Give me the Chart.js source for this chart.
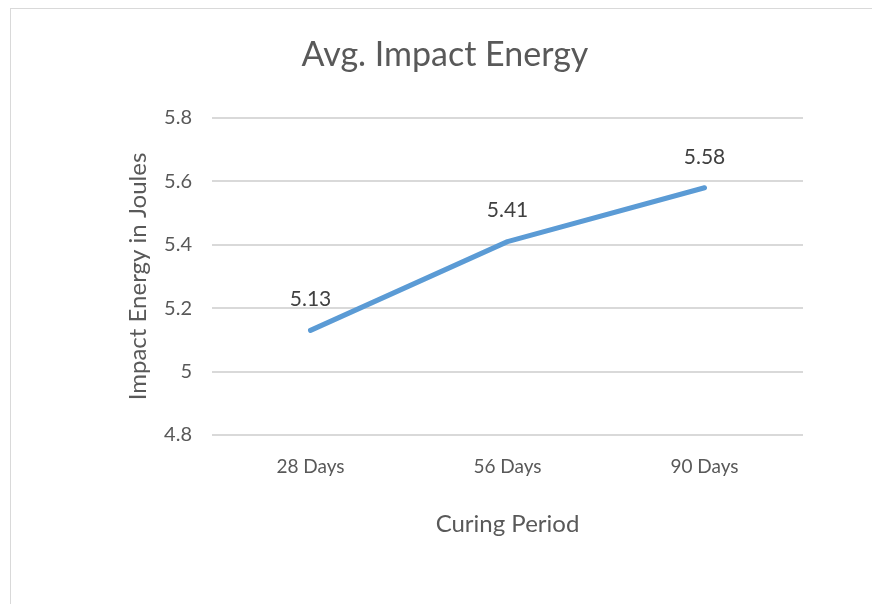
<!DOCTYPE html>
<html>
<head>
<meta charset="utf-8">
<script src="https://cdn.jsdelivr.net/npm/chart.js@4.4.1/dist/chart.umd.min.js"></script>
<style>
  html, body { margin: 0; padding: 0; background: #fff; }
  #frame {
    position: absolute; left: 10px; top: 8px; width: 900px; height: 700px;
    border-left: 1px solid #d9d9d9; border-top: 1px solid #d9d9d9;
  }
  #wrap { position: absolute; left: 0; top: 0; width: 872px; height: 604px; }
</style>
</head>
<body>
<div id="frame"></div>
<div id="wrap"><canvas id="impactChart" width="872" height="604"></canvas></div>
<script>
// chart data
const curingPeriods = ['28 Days', '56 Days', '90 Days'];
const impactEnergy = [5.13, 5.41, 5.58];
const yTicks = [4.8, 5, 5.2, 5.4, 5.6, 5.8];

const textColor = '#595959';
const fontName = 'Lato, "Open Sans", sans-serif';

// draws the value above each point, like Excel data labels
const valueLabels = {
    id: 'valueLabels',
    afterDatasetsDraw(chart) {
        const ctx = chart.ctx;
        const meta = chart.getDatasetMeta(0);
        ctx.save();
        ctx.font = '21px ' + fontName;
        ctx.fillStyle = '#404040';
        ctx.textAlign = 'center';
        ctx.textBaseline = 'middle';
        meta.data.forEach((pt, i) => {
            ctx.fillText(impactEnergy[i].toFixed(2), pt.x, pt.y - 31);
        });
        ctx.restore();
    }
};

const ctx = document.getElementById('impactChart').getContext('2d');
const chart = new Chart(ctx, {
    type: 'line',
    data: {
        labels: curingPeriods,
        datasets: [{
            label: 'Avg. Impact Energy',
            data: impactEnergy,
            borderColor: '#5b9bd5',
            borderWidth: 5,
            borderCapStyle: 'round',
            borderJoinStyle: 'round',
            pointRadius: 0,
            fill: false,
            tension: 0
        }]
    },
    options: {
        responsive: false,
        animation: false,
        layout: { padding: { left: 18, right: 0, top: 0, bottom: 0 } },
        plugins: {
            legend: { display: false },
            tooltip: { enabled: false },
            title: {
                display: true,
                text: 'Avg. Impact Energy',
                color: textColor,
                font: { family: fontName, size: 34, weight: 'normal', lineHeight: 1.2 },
                padding: { top: 34.6, bottom: 42.6 }
            }
        },
        scales: {
            x: {
                offset: true,
                grid: { display: false, drawTicks: false },
                border: { display: false },
                ticks: { color: textColor, padding: 20, font: { family: fontName, size: 19 } },
                title: {
                    display: true,
                    text: 'Curing Period',
                    color: textColor,
                    font: { family: fontName, size: 24, lineHeight: 1.2 },
                    padding: { top: 0, bottom: 65.6 }
                },
                afterFit(scale) { scale.height = 169; }
            },
            y: {
                min: 4.8,
                max: 5.8,
                grid: { color: '#d9d9d9', lineWidth: 2, drawTicks: false },
                border: { display: false },
                afterBuildTicks(scale) { scale.ticks = yTicks.map(v => ({ value: v })); },
                ticks: {
                    color: textColor,
                    padding: 20,
                    font: { family: fontName, size: 20 },
                    callback: v => String(Math.round(v * 10) / 10)
                },
                title: {
                    display: true,
                    text: 'Impact Energy in Joules',
                    color: textColor,
                    font: { family: fontName, size: 24, lineHeight: 1.2 },
                    padding: { top: 105.6, bottom: 0 }
                },
                afterFit(scale) { scale.width = 194; }
            },
            // empty right axis, only keeps the plot's right margin
            yRight: {
                type: 'linear',
                position: 'right',
                grid: { display: false, drawTicks: false },
                border: { display: false },
                ticks: { display: false },
                afterFit(scale) { scale.width = 69; }
            }
        }
    },
    plugins: [valueLabels]
});
</script>
</body>
</html>
